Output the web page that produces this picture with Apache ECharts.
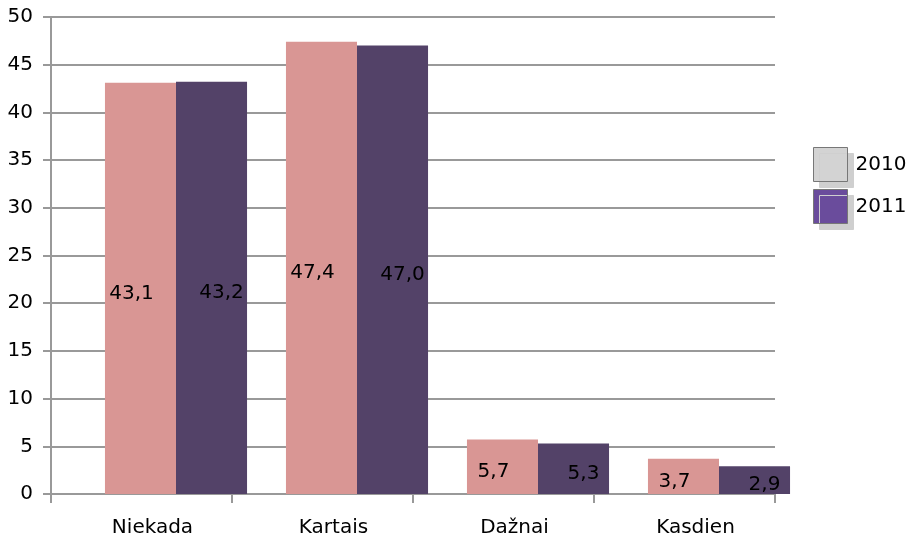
<!DOCTYPE html>
<html>
<head>
<meta charset="utf-8">
<script src="https://cdn.jsdelivr.net/npm/echarts@6/dist/echarts.min.js"></script>
<style>
  html, body { margin: 0; padding: 0; background: #fff; }
  #chart { width: 922px; height: 542px; }
</style>
</head>
<body>
<div id="chart"></div>
<script>
var kategorijos = ['Niekada', 'Kartais', 'Dažnai', 'Kasdien'];
var metai = ['2010', '2011'];
var reiksmes2010 = [43.1, 47.4, 5.7, 3.7];
var reiksmes2011 = [43.2, 47.0, 5.3, 2.9];
var yTicks = { min: 0, max: 50, interval: 5 };

var spalvos = ['#d99694', '#534268'];
var legendosSpalvos = ['#d3d3d3', '#6a4c9c'];

const fmt = (v) => v.toFixed(1).replace('.', ',');

const getOption = () => {
    const grid = { top: 17, height: 477, width: 724 };
    const serija = (i, duom, dx) => ({
        name: metai[i],
        type: 'bar',
        xAxisIndex: 1,
        yAxisIndex: 1,
        data: duom,
        barGap: 0,
        barCategoryGap: '21.5%',
        itemStyle: { color: spalvos[i] },
        label: {
            show: true,
            position: 'inside',
            offset: [dx, 5],
            color: '#000',
            fontFamily: 'DejaVu Sans',
            fontSize: 20,
            formatter: (p) => fmt(p.value)
        }
    });
    return {
        animation: false,
        grid: [
            Object.assign({ left: 51 }, grid),
            Object.assign({ left: 85.5 }, grid)
        ],
        legend: {
            orient: 'vertical',
            left: 808,
            top: 142,
            itemWidth: 34,
            itemHeight: 34,
            itemGap: 7,
            icon: 'rect',
            textStyle: { fontFamily: 'DejaVu Sans', fontSize: 20, color: '#000', padding: [0, 0, 0, 3] },
            data: metai.map((m, i) => ({
                name: m,
                itemStyle: {
                    color: legendosSpalvos[i],
                    borderColor: '#777',
                    borderWidth: 1,
                    shadowColor: '#cfcfcf',
                    shadowOffsetX: 6,
                    shadowOffsetY: 6
                }
            }))
        },
        xAxis: [
            {
                type: 'category',
                gridIndex: 0,
                data: kategorijos,
                axisLine: { lineStyle: { color: '#999', width: 2 } },
                axisTick: { show: true, length: 9, lineStyle: { color: '#999', width: 2 } },
                axisLabel: {
                    color: '#000',
                    fontFamily: 'DejaVu Sans',
                    fontSize: 20,
                    margin: 24,
                    padding: [0, 0, 0, 22]
                }
            },
            {
                type: 'category',
                gridIndex: 1,
                data: kategorijos,
                show: false
            }
        ],
        yAxis: [
            {
                type: 'value',
                gridIndex: 0,
                min: yTicks.min,
                max: yTicks.max,
                interval: yTicks.interval,
                axisLine: { show: true, lineStyle: { color: '#999', width: 2 } },
                axisTick: { show: true, length: 8, lineStyle: { color: '#999', width: 2 } },
                splitLine: { lineStyle: { color: '#999', width: 2 } },
                axisLabel: { color: '#000', fontFamily: 'DejaVu Sans', fontSize: 20, margin: 18 }
            },
            {
                type: 'value',
                gridIndex: 1,
                min: yTicks.min,
                max: yTicks.max,
                interval: yTicks.interval,
                show: false,
                splitLine: { show: false }
            }
        ],
        series: [
            serija(0, reiksmes2010, -9),
            serija(1, reiksmes2011, 10)
        ]
    };
};

const initChart = () => {
    const chart = echarts.init(document.getElementById('chart'));
    chart.setOption(getOption());
};

initChart();
</script>
</body>
</html>
